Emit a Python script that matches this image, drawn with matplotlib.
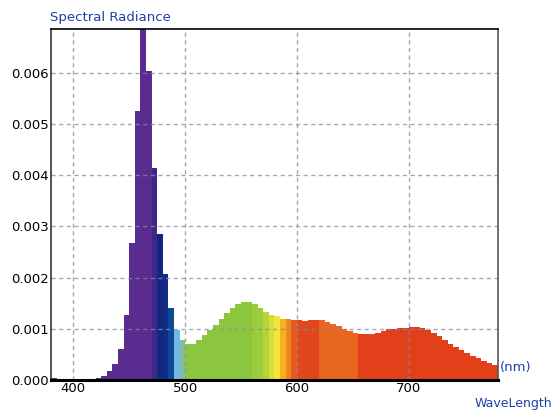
import matplotlib
matplotlib.use("Agg")
import matplotlib.pyplot as plt
import numpy as np

# bin start wavelengths (nm), 5 nm bins
wavelength = np.arange(380, 780, 5)

# spectral radiance per bin
radiance = [
    0.00003, 0.00002, 0.00001, 0.00001, 0.00001, 0.00001, 0.00001, 0.00002,  # 380-415
    0.00004, 0.00008, 0.00018, 0.00031, 0.00061, 0.00127, 0.00267, 0.00525,  # 420-455
    0.00750, 0.00604, 0.00414, 0.00284, 0.00206, 0.00140, 0.00098, 0.00078,  # 460-495
    0.00070, 0.00071, 0.00078, 0.00088, 0.00098, 0.00108, 0.00120, 0.00130,  # 500-535
    0.00140, 0.00148, 0.00153, 0.00153, 0.00148, 0.00141, 0.00133, 0.00127,  # 540-575
    0.00124, 0.00120, 0.00120, 0.00118, 0.00118, 0.00116, 0.00118, 0.00118,  # 580-615
    0.00118, 0.00114, 0.00110, 0.00106, 0.00100, 0.00096, 0.00092, 0.00090,  # 620-655
    0.00089, 0.00090, 0.00092, 0.00096, 0.00099, 0.00100, 0.00102, 0.00102,  # 660-695
    0.00104, 0.00104, 0.00102, 0.00098, 0.00091, 0.00086, 0.00078, 0.00071,  # 700-735
    0.00065, 0.00059, 0.00053, 0.00047, 0.00042, 0.00037, 0.00033, 0.00029,  # 740-775
]

xticks = [400, 500, 600, 700]
yticks = [0.000, 0.001, 0.002, 0.003, 0.004, 0.005, 0.006]

# colour bands: (first bin nm, colour)
bands = [
    (380, "#5b2c8f"), (470, "#3b2888"), (475, "#15267f"), (480, "#0f2d84"),
    (485, "#0e4896"), (490, "#72b8e6"), (495, "#80bf9c"), (500, "#8cc63f"),
    (560, "#9ccb3c"), (570, "#b4d438"), (575, "#d6de38"), (580, "#f6e23a"),
    (585, "#f5b21f"), (590, "#ef861e"), (595, "#e65a1c"), (600, "#e2461c"),
    (620, "#e8661e"), (655, "#e2401b"),
]

def band_colour(nm):
    c = bands[0][1]
    for start, col in bands:
        if nm >= start:
            c = col
    return c

colours = [band_colour(w) for w in wavelength]

plt.rcParams['font.family'] = ['DejaVu Sans']

fig = plt.figure(figsize=(5.56, 4.12), dpi=100)
ax = fig.add_axes([51 / 556, 1 - 380 / 412, 447 / 556, 351 / 412])

ax.bar(wavelength, radiance, width=5, align='edge', color=colours, linewidth=0, zorder=1)

ax.set_xlim(380, 780)
ax.set_ylim(0, 0.00685)
ax.set_xticks(xticks)
ax.set_xticklabels([str(t) for t in xticks], fontsize=9.5)
ax.set_yticks(yticks)
ax.set_yticklabels(["%.3f" % t for t in yticks], fontsize=9.5)
ax.tick_params(length=0, pad=1.5)

ax.grid(True, color="#8a8aa6", linestyle=(0, (3, 2.5)), linewidth=1, alpha=0.75, zorder=2)
ax.set_axisbelow(False)

for side in ['top', 'left', 'right']:
    ax.spines[side].set_linewidth(1.2)
ax.spines['right'].set_color("#555555")
ax.spines['left'].set_color("#333333")
ax.spines['bottom'].set_linewidth(2.2)
for s in ax.spines.values():
    s.set_zorder(5)

blue = "#1f3fa8"
fig.text(50 / 556, 1 - 18 / 412, "Spectral Radiance", color=blue, fontsize=9.5,
         ha='left', va='center')
fig.text(500 / 556, 1 - 368 / 412, "(nm)", color=blue, fontsize=9.5,
         ha='left', va='center')
fig.text(552 / 556, 1 - 403 / 412, "WaveLength", color=blue, fontsize=9,
         ha='right', va='center')

fig.savefig("out.png", dpi=100)
